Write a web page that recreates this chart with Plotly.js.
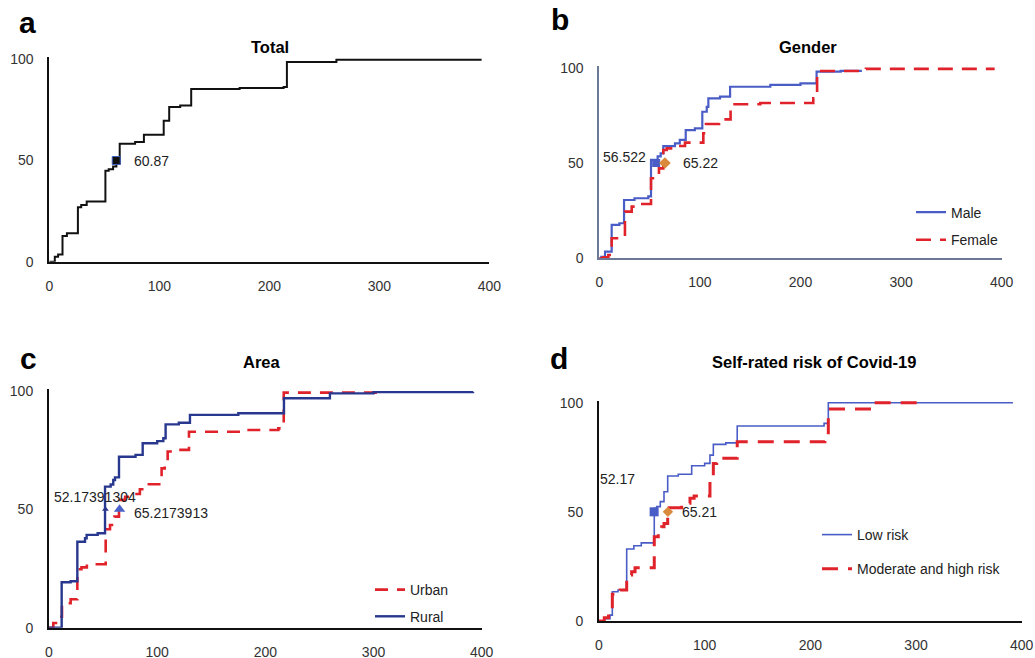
<!DOCTYPE html>
<html>
<head>
<meta charset="utf-8">
<script src="https://cdn.plot.ly/plotly-3.0.1.min.js"></script>
<style>html,body{margin:0;padding:0;background:#fff;}#chart{width:1035px;height:658px;}</style>
</head>
<body>
<div id="chart"></div>
<script>
// ---------- DATA ----------
const xTicks = [0, 100, 200, 300, 400];
const yTicks = [0, 50, 100];

// a: Total
const totalX = [0, 5, 8, 12, 16, 26, 29, 34, 51, 54, 58, 61, 64, 78, 86, 104, 109, 119, 129, 173, 213, 216, 261, 393];
const totalY = [0, 2.5, 3.6, 12.7, 14, 26.9, 28, 29.7, 44.9, 45.7, 47, 48.5, 58.3, 59.1, 62.7, 69.7, 76.4, 77.2, 85.3, 85.8, 86.3, 98.7, 99.8, 99.8];
const totalMedianX = [60.87];
const totalMedianLabel = ["60.87"];

// b: Gender
const maleX = [0, 2, 5.7, 12.3, 20, 24.6, 35, 48.7, 51.4, 58, 61, 63.6, 75.2, 80, 85.9, 95, 102.4, 106.8, 108.4, 120, 130, 170, 200, 216, 240, 261];
const maleY = [0, 0.8, 3.5, 17.5, 18.4, 30.6, 31.5, 32.5, 51.6, 53.5, 55, 58.9, 60.3, 62.1, 67.3, 68.2, 76.9, 79.5, 83.9, 84.8, 90, 91, 91.8, 97.9, 98.3, 98.3];
const femaleX = [0, 4, 9, 12.3, 20, 25.5, 32.2, 40, 51.4, 55.4, 59.3, 63.6, 67, 78, 85.2, 103.4, 106, 119, 124, 130.5, 160, 212.7, 216.5, 265, 393];
const femaleY = [0, 0.5, 1.7, 10.5, 11.3, 24.5, 27.1, 28.5, 42, 43.7, 47.2, 56.8, 57.7, 58.9, 60.7, 65.6, 70.5, 71.7, 72.9, 80.8, 81.5, 83.9, 98.3, 99.4, 99.4];
const maleMedianX = [56.522];
const femaleMedianX = [65.22];
const genderMedianLabels = ["56.522", "65.22"];

// c: Area
const urbanX = [0, 4, 8.6, 12, 20, 26.2, 30, 35, 52.4, 56.4, 59.4, 60.5, 64.7, 70.4, 76, 84, 90, 104.1, 107, 109.7, 120, 129.4, 180, 212, 215, 217, 305.9];
const urbanY = [0, 2, 4.6, 10.3, 12, 24.7, 25.5, 26.8, 41.6, 43.4, 45.5, 46.9, 54, 55.3, 56.5, 58.5, 60.6, 67.3, 68.5, 74.4, 75.1, 82.8, 83.5, 84.2, 86, 99.3, 100];
const ruralX = [0, 11.7, 20, 26.2, 33.3, 34.8, 45, 51.8, 57, 59.4, 61, 64.7, 80, 86.6, 100, 105.7, 107.8, 120, 130.3, 175, 217.2, 259.7, 300, 392];
const ruralY = [0, 19.2, 19.6, 36.3, 37.8, 39.2, 39.9, 59.6, 60.5, 62.4, 63.5, 72.2, 73, 77.9, 78.8, 80, 85.9, 86.6, 89.9, 90.6, 96.9, 99, 99.5, 99.7];
const ruralMedianX = [52.17391304];
const urbanMedianX = [65.2173913];
const areaMedianLabels = ["52.17391304", "65.2173913"];

// d: Self-rated risk
const lowX = [0, 5, 10.4, 12.6, 18, 26.2, 33, 40, 52.3, 54.6, 58, 61.5, 65, 75, 87.7, 100, 105, 108.2, 120, 130.8, 213, 217, 391.7];
const lowY = [0, 1, 2.7, 13.4, 14.2, 33, 34.5, 35.8, 51.6, 52.4, 54.7, 59.2, 66.4, 67.2, 71.1, 72.2, 76, 80.9, 81.6, 89.3, 90.5, 100, 100];
const modX = [0, 5, 9, 12.6, 20, 26.2, 30.9, 34.1, 52.3, 56.1, 59.3, 61.5, 65, 78.2, 86.1, 90, 105, 108.2, 111.4, 116.2, 130.8, 210.7, 213.8, 217, 260.5, 305];
const modY = [0, 1.5, 3.5, 12.2, 14.2, 21.1, 22.6, 24.4, 38.6, 40.9, 43.2, 44.7, 51.9, 53.9, 56.2, 57.3, 63.8, 72.2, 73, 74.5, 82.1, 82.1, 83.7, 97.1, 100, 100];
const lowMedianX = [52.17];
const modMedianX = [65.21];
const riskMedianLabels = ["52.17", "65.21"];

const medianLevel = [50];

const seriesNames = ["Male", "Female", "Urban", "Rural", "Low risk", "Moderate and high risk"];
const panelLetters = ["a", "b", "c", "d"];
const panelTitles = ["Total", "Gender", "Area", "Self-rated risk of Covid-19"];

// ---------- LAYOUT HELPERS ----------
const W = 1035, H = 658;
const fx = p => p / W;
const fy = p => 1 - p / H;
const FONT = "Liberation Sans, Arial, Helvetica, sans-serif";
const RED = "#e0222a", BLUE = "#4a5cc6", NAVY = "#28388e", ORANGE = "#d98a3c";

function axisX(domain, lineColor, anchor) {
  return {domain: domain, range: [0, 400], tickvals: xTicks, showgrid: false, zeroline: false,
    showline: true, linecolor: lineColor, linewidth: 2, ticks: "outside", ticklen: 10,
    tickcolor: "rgba(0,0,0,0)", tickfont: {family: FONT, size: 14, color: "#333"}, anchor: anchor, fixedrange: true};
}
function axisY(domain, lineColor, anchor) {
  return {domain: domain, range: [0, 101], tickvals: yTicks, showgrid: false, zeroline: false,
    showline: true, linecolor: lineColor, linewidth: 2, ticks: "outside", ticklen: 11,
    tickcolor: "rgba(0,0,0,0)", tickfont: {family: FONT, size: 14, color: "#333"}, anchor: anchor, fixedrange: true};
}

const traces = [
  // a
  {x: totalX, y: totalY, xaxis: "x", yaxis: "y", mode: "lines", line: {shape: "hv", color: "#111", width: 2}, showlegend: false, hoverinfo: "skip"},
  {x: totalMedianX, y: medianLevel, xaxis: "x", yaxis: "y", mode: "markers", marker: {symbol: "square", size: 8, color: "#111", line: {color: "#4060c0", width: 1}}, showlegend: false, cliponaxis: false},
  // b
  {x: maleX, y: maleY, xaxis: "x2", yaxis: "y2", mode: "lines", name: seriesNames[0], line: {shape: "hv", color: BLUE, width: 2.2}, legend: "legend", legendgroup: "m"},
  {x: femaleX, y: femaleY, xaxis: "x2", yaxis: "y2", mode: "lines", name: seriesNames[1], line: {shape: "hv", color: RED, width: 2.6, dash: "15px,9px"}, legend: "legend", legendgroup: "f"},
  {x: maleMedianX, y: medianLevel, xaxis: "x2", yaxis: "y2", mode: "markers", marker: {symbol: "square", size: 8, color: BLUE}, showlegend: false, cliponaxis: false},
  {x: femaleMedianX, y: medianLevel, xaxis: "x2", yaxis: "y2", mode: "markers", marker: {symbol: "diamond", size: 9, color: ORANGE}, showlegend: false, cliponaxis: false},
  // c
  {x: urbanX, y: urbanY, xaxis: "x3", yaxis: "y3", mode: "lines", name: seriesNames[2], line: {shape: "hv", color: RED, width: 2.6, dash: "13px,9px"}, legend: "legend2", legendgroup: "u"},
  {x: ruralX, y: ruralY, xaxis: "x3", yaxis: "y3", mode: "lines", name: seriesNames[3], line: {shape: "hv", color: NAVY, width: 2.4}, legend: "legend2", legendgroup: "r"},
  {x: ruralMedianX, y: medianLevel, xaxis: "x3", yaxis: "y3", mode: "markers", marker: {symbol: "triangle-up", size: 6, color: NAVY}, showlegend: false, cliponaxis: false},
  {x: urbanMedianX, y: medianLevel, xaxis: "x3", yaxis: "y3", mode: "markers", marker: {symbol: "triangle-up", size: 10, color: "#4a62c8"}, showlegend: false, cliponaxis: false},
  // d
  {x: lowX, y: lowY, xaxis: "x4", yaxis: "y4", mode: "lines", name: seriesNames[4], line: {shape: "hv", color: BLUE, width: 1.6}, legend: "legend3", legendgroup: "l"},
  {x: modX, y: modY, xaxis: "x4", yaxis: "y4", mode: "lines", name: seriesNames[5], line: {shape: "hv", color: RED, width: 3, dash: "16px,10px"}, legend: "legend3", legendgroup: "h"},
  {x: lowMedianX, y: medianLevel, xaxis: "x4", yaxis: "y4", mode: "markers", marker: {symbol: "square", size: 9, color: BLUE}, showlegend: false, cliponaxis: false},
  {x: modMedianX, y: medianLevel, xaxis: "x4", yaxis: "y4", mode: "markers", marker: {symbol: "diamond", size: 8, color: ORANGE}, showlegend: false, cliponaxis: false}
];

function lab(text, xref, yref, x, y, xanchor, xshift, yshift) {
  return {text: text, xref: xref, yref: yref, x: x, y: y, xanchor: xanchor, yanchor: "middle",
    xshift: xshift, yshift: yshift, showarrow: false, font: {family: FONT, size: 14, color: "#222"}};
}
function paperText(text, px, py, size, bold, xanchor) {
  return {text: bold ? "<b>" + text + "</b>" : text, xref: "paper", yref: "paper", x: fx(px), y: fy(py),
    xanchor: xanchor, yanchor: "middle", showarrow: false, font: {family: FONT, size: size, color: "#000"}};
}

const annotations = [
  paperText(panelLetters[0], 17, 22, 30, true, "left"),
  paperText(panelLetters[1], 549, 20, 30, true, "left"),
  paperText(panelLetters[2], 18, 358, 30, true, "left"),
  paperText(panelLetters[3], 548, 358, 30, true, "left"),
  paperText(panelTitles[0], 270, 47, 16.5, true, "center"),
  paperText(panelTitles[1], 808, 47, 16.5, true, "center"),
  paperText(panelTitles[2], 262, 362, 16.5, true, "center"),
  paperText(panelTitles[3], 814, 362, 16.5, true, "center"),
  lab(totalMedianLabel[0], "x", "y", totalMedianX[0], medianLevel[0], "left", 16, 0),
  lab(genderMedianLabels[0], "x2", "y2", maleMedianX[0], medianLevel[0], "right", -8, 6),
  lab(genderMedianLabels[1], "x2", "y2", femaleMedianX[0], medianLevel[0], "left", 16, 0),
  lab(areaMedianLabels[0], "x3", "y3", ruralMedianX[0], medianLevel[0], "center", -10, 12),
  lab(areaMedianLabels[1], "x3", "y3", urbanMedianX[0], medianLevel[0], "left", 12, -4),
  lab(riskMedianLabels[0], "x4", "y4", lowMedianX[0], medianLevel[0], "right", -17, 33),
  lab(riskMedianLabels[1], "x4", "y4", modMedianX[0], medianLevel[0], "left", 12, 0)
];

function legendAt(px, py, gap) {
  return {x: fx(px), y: fy(py), xanchor: "left", yanchor: "top", bgcolor: "rgba(0,0,0,0)",
    font: {family: FONT, size: 14, color: "#222"}, tracegroupgap: gap, traceorder: "grouped"};
}

const layout = {
  width: W, height: H, margin: {l: 0, r: 0, t: 0, b: 0}, paper_bgcolor: "#fff", plot_bgcolor: "#fff",
  showlegend: true, hovermode: false,
  xaxis: axisX([fx(49.3), fx(489.3)], "#111", "y"),
  yaxis: axisY([fy(261.7), fy(57.3)], "#111", "x"),
  xaxis2: axisX([fx(599.3), fx(1001.7)], "#6b7896", "y2"),
  yaxis2: axisY([fy(258.3), fy(65.8)], "#6b7896", "x2"),
  xaxis3: axisX([fx(49), fx(481.7)], "#111", "y3"),
  yaxis3: axisY([fy(627.7), fy(388.6)], "#111", "x3"),
  xaxis4: axisX([fx(599), fx(1021.7)], "#111", "y4"),
  yaxis4: axisY([fy(621), fy(400.5)], "#111", "x4"),
  legend: legendAt(911, 196.5, 6.5),
  legend2: legendAt(370, 574, 5.5),
  legend3: legendAt(817, 519, 13),
  annotations: annotations
};

Plotly.newPlot("chart", traces, layout, {staticPlot: true, displayModeBar: false});
</script>
</body>
</html>
